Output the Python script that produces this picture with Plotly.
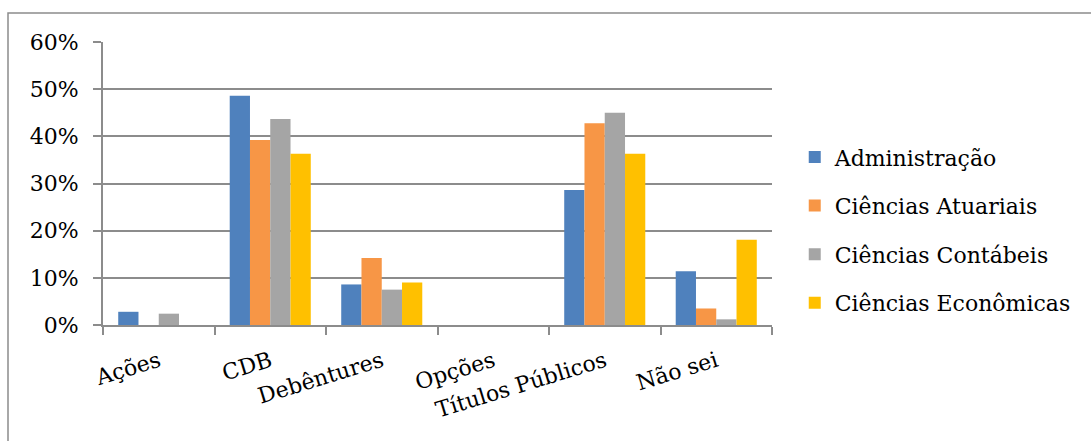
import plotly.graph_objects as go

categories = ["Ações", "CDB", "Debêntures", "Opções", "Títulos Públicos", "Não sei"]
series_names = ["Administração", "Ciências Atuariais", "Ciências Contábeis", "Ciências Econômicas"]
administracao = [0.028, 0.486, 0.086, 0.0, 0.286, 0.114]
atuariais = [0.0, 0.392, 0.142, 0.0, 0.428, 0.035]
contabeis = [0.024, 0.437, 0.075, 0.0, 0.450, 0.012]
economicas = [0.0, 0.363, 0.090, 0.0, 0.363, 0.181]
colors = ["#4F81BD", "#F79646", "#A5A5A5", "#FFC000"]
y_ticks = [0, 0.1, 0.2, 0.3, 0.4, 0.5, 0.6]

FONT = "DejaVu Serif"
fig = go.Figure()
for name, vals, col in zip(series_names, [administracao, atuariais, contabeis, economicas], colors):
    fig.add_trace(go.Bar(x=categories, y=vals, name=name, marker_color=col,
                         marker_line_width=0, legendgroup=name))

fig.update_layout(
    width=1091, height=441,
    margin=dict(l=103, r=319, t=42, b=116, pad=0),
    paper_bgcolor="white", plot_bgcolor="white",
    barmode="group", bargap=0.273, bargroupgap=0,
    font=dict(family=FONT, size=22, color="#000000"),
    showlegend=True,
    legend=dict(x=1.034, y=0.335, xanchor="left", yanchor="middle",
                font=dict(family=FONT, size=22), tracegroupgap=17,
                itemwidth=30, bgcolor="rgba(0,0,0,0)"),
    xaxis=dict(showgrid=False, showline=True, linecolor="#8C8C8C", linewidth=2,
               ticks="outside", ticklen=8, tickcolor="#8C8C8C", tickwidth=2,
               tickson="boundaries", tickangle=-17, ticklabelstandoff=13,
               tickfont=dict(family=FONT, size=22)),
    yaxis=dict(range=[0, 0.6], tickvals=y_ticks, tickformat=".0%",
               showgrid=True, gridcolor="#8C8C8C", gridwidth=2,
               showline=True, linecolor="#8C8C8C", linewidth=2,
               ticks="outside", ticklen=8, tickcolor="#8C8C8C", tickwidth=2,
               ticklabelstandoff=10,
               zeroline=False, tickfont=dict(family=FONT, size=22)),
    shapes=[dict(type="rect", xref="paper", yref="paper",
                 x0=-0.142, x1=1.6, y0=-0.6, y1=1.1025,
                 line=dict(color="#8C8C8C", width=1.5), fillcolor="rgba(0,0,0,0)", layer="below")],
)
fig.write_html("out.html")
